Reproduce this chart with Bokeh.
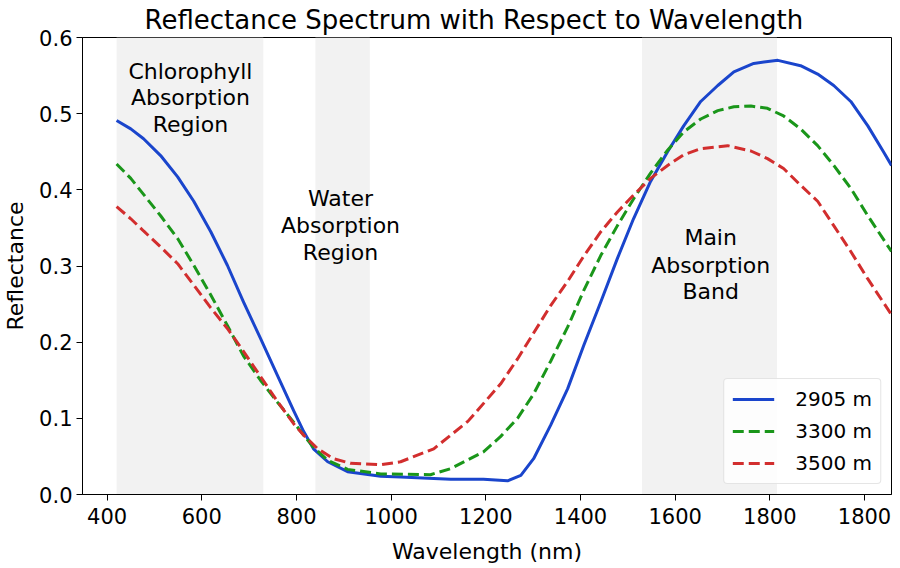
from bokeh.plotting import figure
from bokeh.models import Range1d, FixedTicker, PrintfTickFormatter, ColumnDataSource
from bokeh.core.properties import value
from bokeh.embed import file_html
from bokeh.resources import INLINE

# ---- data ----
blue_x = [420, 450, 477, 513, 549, 583, 619, 654, 688, 724, 760, 794, 815, 836, 866, 908,
          978, 1020, 1090, 1126, 1195, 1246, 1274, 1301, 1337, 1373, 1407, 1443, 1478,
          1512, 1548, 1584, 1618, 1654, 1690, 1724, 1766, 1817, 1865, 1901, 1935, 1971,
          2007, 2040, 2057]
blue_y = [0.491, 0.480, 0.467, 0.445, 0.417, 0.385, 0.345, 0.301, 0.253, 0.205, 0.156,
          0.110, 0.083, 0.060, 0.043, 0.030, 0.024, 0.023, 0.021, 0.020, 0.020, 0.018,
          0.025, 0.047, 0.091, 0.139, 0.196, 0.253, 0.310, 0.362, 0.411, 0.450, 0.484,
          0.516, 0.537, 0.555, 0.566, 0.570, 0.563, 0.552, 0.537, 0.516, 0.484, 0.450, 0.432]

green_x = [420, 450, 477, 513, 549, 583, 619, 654, 688, 724, 760, 794, 815, 836, 866, 908,
           978, 1083, 1126, 1195, 1231, 1267, 1301, 1337, 1373, 1407, 1443, 1478, 1512,
           1548, 1584, 1618, 1654, 1690, 1724, 1760, 1795, 1829, 1865, 1901, 1935, 1971,
           2007, 2057]
green_y = [0.434, 0.415, 0.394, 0.366, 0.336, 0.301, 0.262, 0.222, 0.182, 0.150, 0.121,
           0.095, 0.078, 0.062, 0.045, 0.033, 0.027, 0.026, 0.034, 0.056, 0.076, 0.100,
           0.132, 0.175, 0.220, 0.268, 0.314, 0.353, 0.388, 0.422, 0.452, 0.476, 0.493,
           0.504, 0.509, 0.510, 0.507, 0.497, 0.480, 0.458, 0.432, 0.402, 0.366, 0.319]

red_x = [420, 450, 477, 513, 549, 583, 619, 654, 688, 724, 760, 794, 815, 845, 878, 914,
         978, 1020, 1090, 1162, 1231, 1267, 1301, 1337, 1373, 1407, 1443, 1478, 1512,
         1548, 1584, 1618, 1654, 1711, 1760, 1795, 1829, 1865, 1901, 1935, 1971, 2007, 2057]
red_y = [0.378, 0.362, 0.346, 0.325, 0.303, 0.275, 0.245, 0.218, 0.188, 0.155, 0.122,
         0.093, 0.078, 0.060, 0.047, 0.041, 0.039, 0.043, 0.060, 0.096, 0.145, 0.178,
         0.212, 0.248, 0.280, 0.313, 0.345, 0.371, 0.393, 0.415, 0.432, 0.446, 0.454,
         0.458, 0.451, 0.441, 0.428, 0.406, 0.385, 0.353, 0.319, 0.283, 0.236]

series_labels = ["2905 m", "3300 m", "3500 m"]

band_start = [420, 840, 1530]
band_end = [730, 955, 1815]

ann_text = ["Chlorophyll", "Absorption", "Region",
            "Water", "Absorption", "Region",
            "Main", "Absorption", "Band"]
ann_x = [576, 576, 576, 893, 893, 893, 1675, 1675, 1675]
ann_y = [0.555, 0.521, 0.486, 0.388, 0.353, 0.318, 0.337, 0.301, 0.266]

x_tick_values = [400, 600, 800, 1000, 1200, 1400, 1600, 1800, 2000]
x_tick_labels = ["400", "600", "800", "1000", "1200", "1400", "1600", "1800", "1800"]
y_tick_values = [0.0, 0.1, 0.2, 0.3, 0.4, 0.5, 0.6]

FONT = "DejaVu Sans"

p = figure(frame_width=809, frame_height=457, output_backend="svg", toolbar_location=None,
           x_range=Range1d(348, 2057), y_range=Range1d(0, 0.6),
           min_border_left=81, min_border_right=2, min_border_top=37, min_border_bottom=60,
           title="Reflectance Spectrum with Respect to Wavelength")

p.title.text_font = FONT
p.title.text_font_size = "26px"
p.title.text_font_style = "normal"
p.title.align = "left"
p.title.offset = 62
p.title.standoff = 5
p.title.text_color = "black"

p.background_fill_color = "white"
p.border_fill_color = "white"
p.outline_line_color = "black"
p.outline_line_width = 1
p.outline_line_alpha = 1
p.xgrid.visible = False
p.ygrid.visible = False

p.quad(left=band_start, right=band_end, bottom=0, top=0.6,
       fill_color="#f2f2f2", line_color=None)

ann_src = ColumnDataSource(dict(x=ann_x, y=ann_y, text=ann_text))
p.text(x="x", y="y", text="text", source=ann_src, text_align="center",
       text_baseline="alphabetic", text_font=value(FONT), text_font_size="22px",
       text_color="black")

p.line(blue_x, blue_y, line_color="#1a45cc", line_width=3, line_join="round",
       legend_label=series_labels[0])
p.line(green_x, green_y, line_color="#1a961a", line_width=3, line_dash="11 5",
       legend_label=series_labels[1])
p.line(red_x, red_y, line_color="#d22e2e", line_width=3, line_dash="11 5",
       legend_label=series_labels[2])

for ax in (p.xaxis[0], p.yaxis[0]):
    ax.axis_line_color = "black"
    ax.major_tick_line_color = "black"
    ax.major_tick_out = 6
    ax.major_tick_in = 0
    ax.minor_tick_line_color = None
    ax.major_label_text_font = FONT
    ax.major_label_text_font_size = "21px"
    ax.major_label_text_color = "black"
    ax.axis_label_text_font = FONT
    ax.axis_label_text_font_size = "22px"
    ax.axis_label_text_font_style = "normal"
    ax.axis_label_text_color = "black"

p.xaxis.axis_label = "Wavelength (nm)"
p.yaxis.axis_label = "Reflectance"
p.xaxis.ticker = FixedTicker(ticks=x_tick_values)
p.xaxis.major_label_overrides = {v: t for v, t in zip(x_tick_values, x_tick_labels)}
p.yaxis.ticker = FixedTicker(ticks=y_tick_values)
p.yaxis.formatter = PrintfTickFormatter(format="%.1f")
p.xaxis.major_label_standoff = 7
p.yaxis.major_label_standoff = 4
p.xaxis.axis_label_standoff = 12
p.yaxis.axis_label_standoff = 8

lg = p.legend[0]
lg.location = "bottom_right"
lg.margin = 10
lg.padding = 8
lg.spacing = 8
lg.glyph_width = 42
lg.glyph_height = 24
lg.label_height = 24
lg.label_standoff = 21
lg.label_text_font = FONT
lg.label_text_font_size = "20px"
lg.label_text_color = "black"
lg.border_line_color = "#cccccc"
lg.border_line_width = 1
lg.border_radius = 4
lg.background_fill_color = "white"
lg.background_fill_alpha = 0.85

open("out.html", "w").write(file_html(p, INLINE))
